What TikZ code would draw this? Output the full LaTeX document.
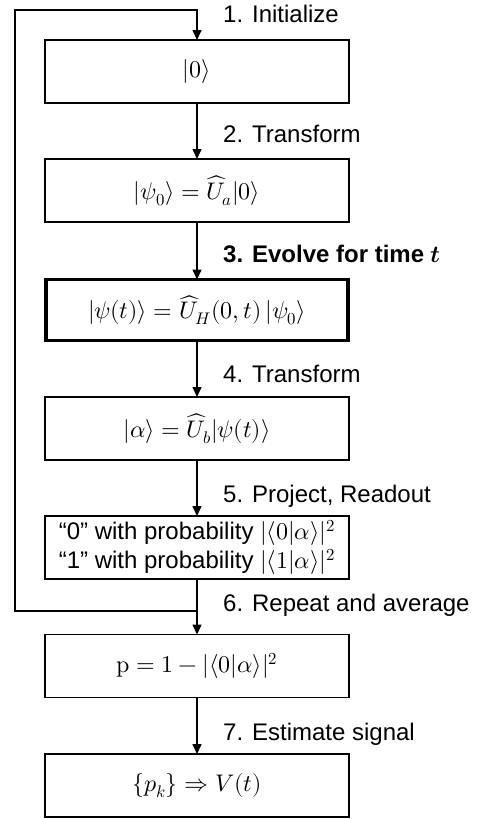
\documentclass[tikz,border=0pt]{standalone}
\usepackage{fontspec}
\usepackage{unicode-math}
\setmainfont{Liberation Sans}
\setmathfont{Latin Modern Math}
\usetikzlibrary{arrows.meta}
\begin{document}
\begin{tikzpicture}[x=1pt,y=-1pt,
  box/.style={draw, line width=1.5pt, minimum width=304pt, minimum height=63pt, inner sep=0pt, outer sep=0pt, align=center, font=\fontsize{24}{29}\selectfont},
  thickbox/.style={box, line width=3.2pt, minimum width=302pt, minimum height=61pt},
  lab/.style={anchor=base west, inner sep=0pt, font=\fontsize{24}{29}\selectfont},
  conn/.style={line width=1.5pt, -{Triangle[width=9pt,length=10pt]}},
  wire/.style={line width=1.5pt}]
\useasboundingbox (0,0) rectangle (484,819);
\node[box] (b1) at (197,71.5) {$|0\rangle$};
\node[box] (b2) at (197,190.5) {$\left|\psi_0\right\rangle = \widehat{U}_a|0\rangle$};
\node[thickbox] (b3) at (197,310) {$|\psi(t)\rangle = \widehat{U}_H(0,t)\left|\psi_0\right\rangle$};
\node[box] (b4) at (197,428.5) {$|\alpha\rangle = \widehat{U}_b|\psi(t)\rangle$};
\node[box] (b5) at (197,547.5) {“0” with probability $|\langle 0|\alpha\rangle|^2$\\“1” with probability $|\langle 1|\alpha\rangle|^2$};
\node[box] (b6) at (197,666) {$\symup{p} = 1 - |\langle 0|\alpha\rangle|^2$};
\node[box] (b7) at (197,785.5) {$\{p_k\} \Rightarrow V(t)$};
\node[lab] (l1) at (223,22) {1. Initialize};
\node[lab] (l2) at (223,142) {2. Transform};
\node[lab] (l3) at (223,262) {\textbf{3. Evolve for time} $\symbfit{t}$};
\node[lab] (l4) at (223,382) {4. Transform};
\node[lab] (l5) at (223,502) {5. Project, Readout};
\node[lab] (l6) at (223,611) {6. Repeat and average};
\node[lab] (l7) at (223,740) {7. Estimate signal};
\coordinate (j) at (197,611);
\coordinate (cl) at (15,611);
\coordinate (tl) at (15,10);
\coordinate (tr) at (197,10);
\draw[conn] (b1) -- (b2);
\draw[conn] (b2) -- (b3);
\draw[conn] (b3) -- (b4);
\draw[conn] (b4) -- (b5);
\draw[conn] (b5) -- (b6);
\draw[conn] (b6) -- (b7);
\draw[conn] (j) -- (cl) -- (tl) -- (tr) -- (b1.north);
\end{tikzpicture}
\end{document}
